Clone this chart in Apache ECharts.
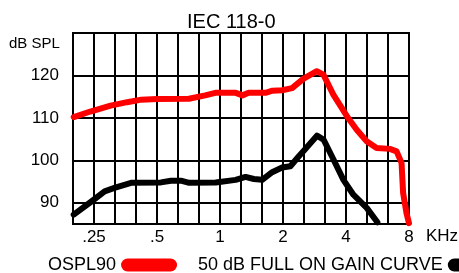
<!DOCTYPE html>
<html>
<head>
<meta charset="utf-8">
<script src="https://cdn.jsdelivr.net/npm/echarts@6/dist/echarts.min.js"></script>
<style>html,body{margin:0;padding:0;background:#fff;}#c{width:459px;height:273px;}</style>
</head>
<body>
<div id="c"></div>
<script>
// frequencies in kHz, levels in dB SPL
const osplFreq = [0.2, 0.24, 0.3, 0.36, 0.42, 0.5, 0.71, 0.85, 0.95, 1.19, 1.28, 1.37, 1.65, 1.78, 1.98, 2.21, 2.5, 2.9, 3.12, 3.48, 4.04, 4.5, 5.02, 5.6, 6.48, 6.98, 7.37, 7.5, 7.78, 8.0];
const osplDb   = [110.2, 111.5, 112.9, 113.7, 114.3, 114.45, 114.5, 115.3, 115.9, 115.9, 115.3, 115.9, 115.9, 116.4, 116.5, 117.0, 119.2, 121.0, 120.2, 115.5, 110.4, 107.2, 104.5, 102.9, 102.7, 102.1, 99.4, 92.3, 87.6, 85.2];
const gainFreq = [0.2, 0.243, 0.281, 0.313, 0.376, 0.522, 0.583, 0.65, 0.712, 0.954, 1.188, 1.325, 1.451, 1.591, 1.775, 1.981, 2.169, 2.375, 2.52, 2.906, 3.124, 3.485, 3.888, 4.338, 5.024, 5.65];
const gainDb   = [87.2, 90.3, 92.7, 93.5, 94.7, 94.8, 95.2, 95.2, 94.7, 94.8, 95.4, 96.1, 95.6, 95.4, 97.2, 98.3, 98.6, 100.9, 102.3, 105.8, 104.9, 100.2, 95.4, 91.9, 88.8, 85.4];
const xTickFreqs  = [0.25, 0.5, 1, 2, 4, 8];
const xTickLabels = ['.25', '.5', '1', '2', '4', '8'];
const yTickValues = [90, 100, 110, 120];
const seriesNames = ['OSPL90', '50 dB FULL ON GAIN CURVE'];
const titleText = 'IEC 118-0';

// x axis in third-octave units: x = 3*log2(f)
const toX = f => 3 * Math.log2(f);
const labelMap = {};
xTickFreqs.forEach((f, i) => { labelMap[Math.round(toX(f))] = xTickLabels[i]; });

const FONT = 'Liberation Sans, Arial, sans-serif';
const pill = 'path://M6.5,0H49.5A6.5,6.5,0,0,1,49.5,13H6.5A6.5,6.5,0,0,1,6.5,0Z';

const chart = echarts.init(document.getElementById('c'), null, {renderer: 'canvas'});
chart.setOption({
  animation: false,
  backgroundColor: '#fff',
  textStyle: {fontFamily: FONT},
  title: {
    text: titleText, left: 182, top: 7,
    textStyle: {fontSize: 20, fontWeight: 'normal', color: '#000', fontFamily: FONT}
  },
  graphic: [
    {type: 'text', left: 9, top: 36, style: {text: 'dB SPL', fontSize: 15, fill: '#000', font: '15px ' + FONT}},
    {type: 'text', left: 426, top: 228, style: {text: 'KHz', fontSize: 17, fill: '#000', font: '17px ' + FONT}}
  ],
  grid: {left: 73, right: 50, top: 33, bottom: 49, show: true, borderColor: '#000', borderWidth: 2, backgroundColor: 'transparent'},
  legend: {
    left: 43, top: 251, width: 900, align: 'right', itemGap: 21, itemWidth: 56, itemHeight: 13,
    textStyle: {fontSize: 18, color: '#000', fontFamily: FONT},
    data: [
      {name: seriesNames[0], icon: pill, itemStyle: {color: '#ff0000', borderWidth: 0}},
      {name: seriesNames[1], icon: pill, itemStyle: {color: '#000000', borderWidth: 0}}
    ]
  },
  xAxis: {
    type: 'value', min: -7, max: 9, interval: 1,
    axisLine: {show: false}, axisTick: {show: false},
    splitLine: {show: true, lineStyle: {color: '#000', width: 2}},
    axisLabel: {
      margin: 5, fontSize: 17, color: '#000', fontFamily: FONT,
      formatter: v => (labelMap[Math.round(v)] !== undefined ? labelMap[Math.round(v)] : '')
    }
  },
  yAxis: {
    type: 'value', min: 85, max: 130, interval: 5,
    axisLine: {show: false}, axisTick: {show: false},
    splitLine: {show: true, lineStyle: {color: ['rgba(0,0,0,0)', '#000'], width: 2}},
    axisLabel: {
      margin: 14, fontSize: 17, color: '#000', fontFamily: FONT,
      formatter: v => (yTickValues.indexOf(Math.round(v)) >= 0 ? String(Math.round(v)) : '')
    }
  },
  series: [
    {
      name: seriesNames[0], type: 'line', showSymbol: false, symbol: 'none',
      data: osplFreq.map((f, i) => [toX(f), osplDb[i]]),
      lineStyle: {color: '#ff0000', width: 6, cap: 'round', join: 'round'},
      itemStyle: {color: '#ff0000'}
    },
    {
      name: seriesNames[1], type: 'line', showSymbol: false, symbol: 'none',
      data: gainFreq.map((f, i) => [toX(f), gainDb[i]]),
      lineStyle: {color: '#000000', width: 6, cap: 'round', join: 'round'},
      itemStyle: {color: '#000000'}
    }
  ]
});
</script>
</body>
</html>
